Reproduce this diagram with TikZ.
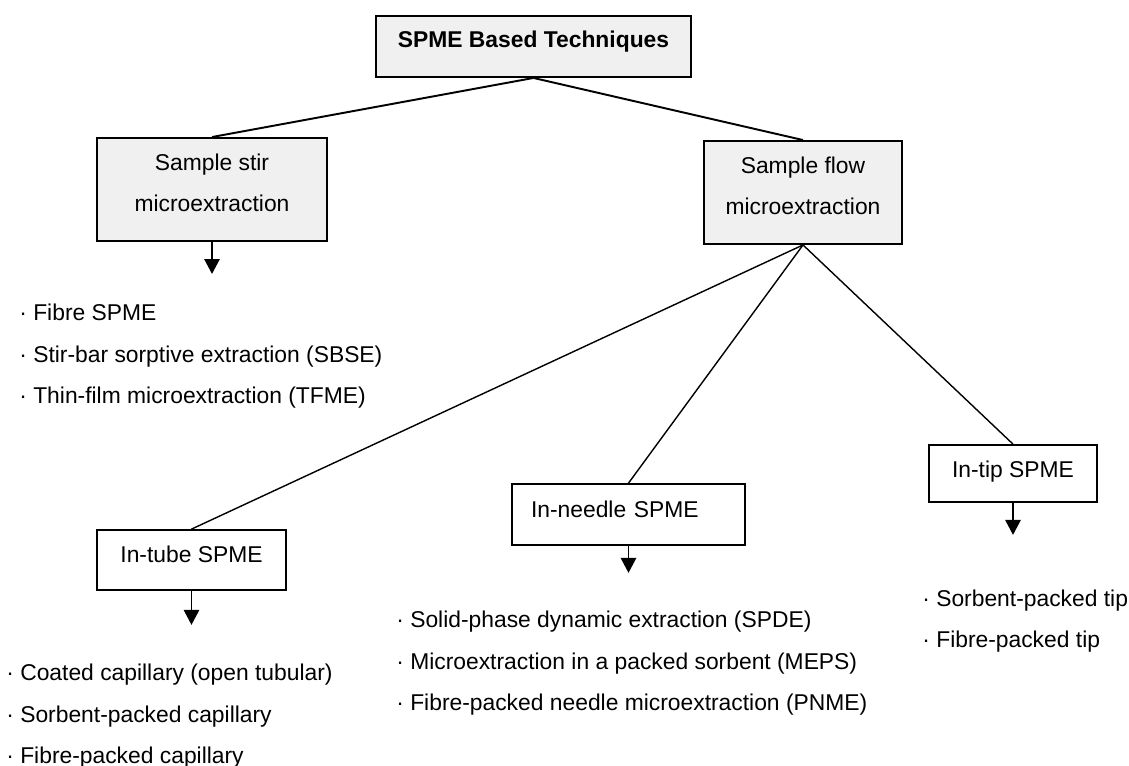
\documentclass[tikz,border=0pt]{standalone}
\usepackage{fontspec}
\setmainfont{Liberation Sans}
\usepackage{xcolor}
\usepackage{tikz}
\usetikzlibrary{positioning,arrows.meta}

\definecolor{boxgrey}{HTML}{F0F0F0}
\newcommand{\diagfont}{\fontsize{13}{23.6}\selectfont}

\tikzset{
  every node/.style={font=\diagfont},
  topbox/.style={draw, line width=1.1pt, fill=boxgrey, inner sep=0pt, align=center},
  subbox/.style={draw, line width=1pt, fill=white, inner sep=0pt,
    text height=0.35cm, text depth=0.23cm},
  item/.style={anchor=base west, inner sep=0pt},
  link/.style={line width=0.8pt},
  arr/.style={line width=0.8pt, -{Triangle[width=8.8pt,length=8.5pt]}}
}

\begin{document}
\begin{tikzpicture}[x=0.02cm, y=-0.02cm]
\useasboundingbox (0,0) rectangle (1129,766);

% main boxes
\node[topbox, minimum width=6.3cm, minimum height=1.22cm, text height=0.35cm, text depth=0.29cm,
  font=\diagfont\bfseries] (spme) at (533.5,46.5) {SPME Based Techniques};
\node[topbox, minimum width=4.6cm, minimum height=2.06cm, text height=1.17cm, text depth=0.27cm] (stir) at (212,189.5) {Sample stir\\microextraction};
\node[topbox, minimum width=3.96cm, minimum height=2.06cm, text height=1.17cm, text depth=0.27cm] (flow) at (803,192.5) {Sample flow\\microextraction};

% flow techniques
\node[subbox, minimum width=3.78cm, minimum height=1.2cm] (tube) at (191.5,560) {In-tube SPME};
\node[subbox, text width=3.9cm, inner xsep=0.38cm, align=left, minimum height=1.22cm] (needle) at (628.5,514.5) {In-needle SPME};
\node[subbox, minimum width=3.36cm, minimum height=1.14cm, text depth=0.2cm] (tip) at (1013,473.5) {In-tip SPME};

\draw[link, line width=1.1pt] (spme.south) -- (stir.north);
\draw[link, line width=1.1pt] (spme.south) -- (flow.north);
\draw[link] (flow.south) -- (tube.north);
\draw[link] (flow.south) -- (needle.north);
\draw[link] (flow.south) -- (tip.north);

% arrows to the lists
\coordinate[below=0.64cm of stir] (stir-out);
\coordinate[below=0.68cm of tube] (tube-out);
\coordinate[below=0.54cm of needle] (needle-out);
\coordinate[below=0.64cm of tip] (tip-out);
\draw[arr] (stir.south) -- (stir-out);
\draw[arr] (tube.south) -- (tube-out);
\draw[arr] (needle.south) -- (needle-out);
\draw[arr] (tip.south) -- (tip-out);

% lists
\foreach \y/\t [count=\i] in {321/Fibre SPME, 362.5/Stir-bar sorptive extraction (SBSE), 404/Thin-film microextraction (TFME)}
    \node[item] (stir-\i) at (19,\y) {· \t};
\foreach \y/\t [count=\i] in {680/Coated capillary (open tubular), 722/Sorbent-packed capillary, 763/Fibre-packed capillary}
    \node[item] (tube-\i) at (6,\y) {· \t};
\foreach \y/\t [count=\i] in {627/Solid-phase dynamic extraction (SPDE), 669/Microextraction in a packed sorbent (MEPS), 710/Fibre-packed needle microextraction (PNME)}
    \node[item] (needle-\i) at (396,\y) {· \t};
\foreach \y/\t [count=\i] in {606/Sorbent-packed tip, 647/Fibre-packed tip}
    \node[item] (tip-\i) at (922,\y) {· \t};
\end{tikzpicture}
\end{document}
